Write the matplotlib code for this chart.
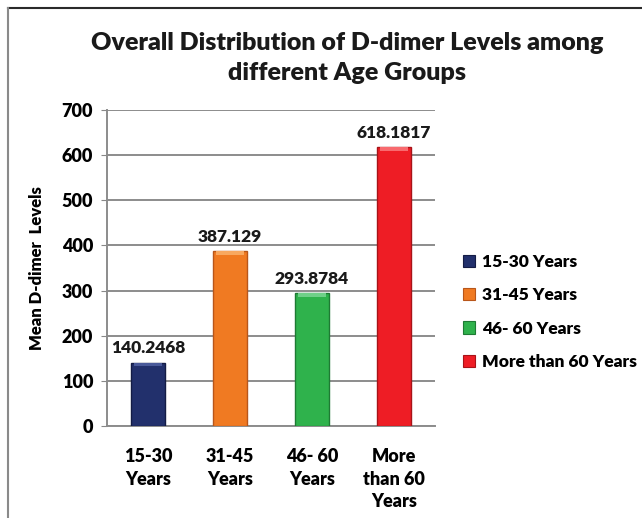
import matplotlib
matplotlib.use("Agg")
from matplotlib import pyplot as plt
from matplotlib.patches import Patch
from matplotlib.lines import Line2D

# Data
groups = ["15-30\nYears", "31-45\nYears", "46- 60\nYears", "More\nthan 60\nYears"]
legend_labels = ["15-30 Years", "31-45 Years", "46- 60 Years", "More than 60 Years"]
means = [140.2468, 387.129, 293.8784, 618.1817]
value_labels = ["140.2468", "387.129", "293.8784", "618.1817"]
colors = ["#22306c", "#f07a22", "#2fb24c", "#ee1d25"]
edges = ["#141c45", "#b8561a", "#1e7a33", "#a81318"]
tops = ["#4a5a9a", "#f8a860", "#6fd088", "#f86a6e"]

W = 'heavy'
plt.rcParams['font.family'] = ['Lato', 'DejaVu Sans']
plt.rcParams['font.weight'] = W

fig = plt.figure(figsize=(6.42, 5.18), dpi=100)
ax = fig.add_axes([0.1667, 0.1776, 0.5109, 0.61])

x = range(len(means))
bars = ax.bar(x, means, width=0.41, color=colors, edgecolor=edges, linewidth=1.0, zorder=3)
# thin lighter bevel at the top of each bar
ax.bar(x, [8] * len(means), bottom=[m - 8 for m in means], width=0.33,
       color=tops, linewidth=0, zorder=4)

# value labels above the bars
for i, b in enumerate(bars):
    ax.text(b.get_x() + b.get_width() / 2, b.get_height() + 14, value_labels[i],
            ha='center', va='bottom', fontsize=12.5, fontweight=W, color='#1a1a1a')

ax.set_xlim(-0.5, 3.5)
ax.set_ylim(0, 700)
ax.set_yticks(range(0, 701, 100))
ax.set_xticks(list(x))
ax.set_xticklabels(groups, fontsize=13, fontweight=W, linespacing=1.4)
ax.tick_params(axis='x', length=0, pad=16)
ax.tick_params(axis='y', length=4, color='#888888', labelsize=13, pad=6)
for lab in ax.get_yticklabels():
    lab.set_fontweight(W)

ax.yaxis.grid(True, color='#8c8c8c', linewidth=1.4, zorder=0)
for s in ['top', 'right']:
    ax.spines[s].set_visible(False)
ax.spines['left'].set_color('#8c8c8c')
ax.spines['bottom'].set_color('#8c8c8c')
ax.spines['left'].set_linewidth(1.4)
ax.spines['bottom'].set_linewidth(1.4)

ax.set_ylabel("Mean D-dimer  Levels", fontsize=12, fontweight=W, labelpad=12)

fig.text(0.541, 0.888, "Overall Distribution of D-dimer Levels among\ndifferent Age Groups",
         ha='center', va='center', fontsize=18, fontweight=W, color='#1a1a1a',
         linespacing=1.4)

handles = [Patch(facecolor=c, edgecolor=e, linewidth=0.8) for c, e in zip(colors, edges)]
fig.legend(handles, legend_labels, loc='upper left', bbox_to_anchor=(0.697, 0.54),
           frameon=False, handlelength=0.7, handleheight=0.7,
           handletextpad=0.4, labelspacing=1.0, prop={'weight': W, 'size': 12.5})

# outer frame (top and left edges only)
fig.add_artist(Line2D([0.012, 1.0], [0.984, 0.984], color='#2a2a2a', linewidth=1.5))
fig.add_artist(Line2D([0.012, 0.012], [0.0, 0.984], color='#8a8a8a', linewidth=1.5))

fig.savefig("out.png", dpi=100)
